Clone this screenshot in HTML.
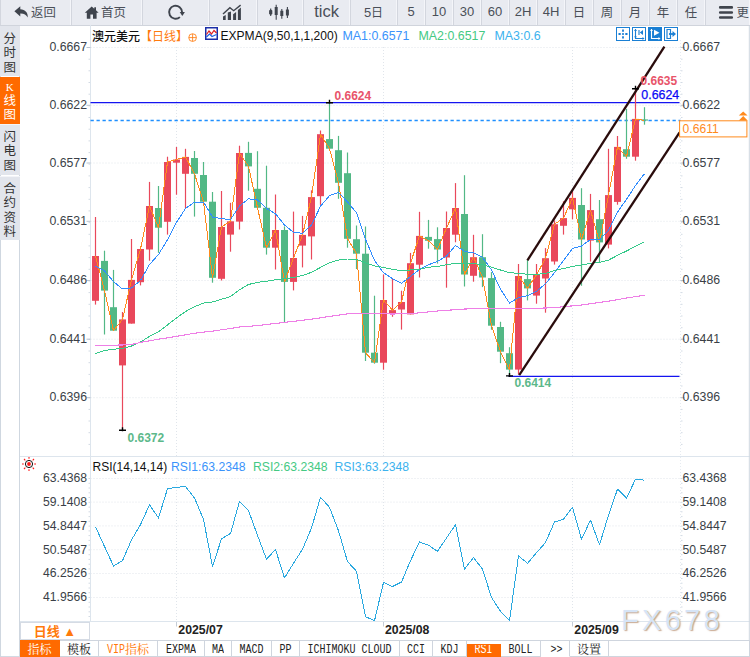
<!DOCTYPE html>
<html lang="zh-CN"><head><meta charset="utf-8"><title>澳元美元 日线</title>
<style>
html,body{margin:0;padding:0;background:#fff}
body{width:750px;height:657px;position:relative;overflow:hidden;font-family:"Liberation Sans","Noto Sans CJK SC",sans-serif;color:#333}
#bar{position:absolute;left:0;top:0;width:750px;height:26px;background:#e9ebf1;border-bottom:1px solid #d0d4dc;box-sizing:border-box}
.tb{position:absolute;top:0;height:25px;box-sizing:border-box;border-right:1px solid #f4f5f9;border-left:1px solid #d3d6de}
.tb .ic{position:absolute}
.tb .cj{position:absolute;top:3.500px;font-size:12.400px;line-height:18px;color:#4a4f58;font-family:"Liberation Sans","Noto Sans CJK SC",sans-serif;white-space:nowrap}
.tb .la{position:absolute;top:3px;font-size:13px;line-height:18px;color:#4a4f58;font-family:"Liberation Sans","Noto Sans CJK SC",sans-serif;white-space:nowrap}
#side{position:absolute;left:0;top:26px;width:20px;height:631px;box-sizing:border-box;border-left:1px solid #cfd7e0;border-right:1px solid #cfd7e0;background:#fff}
.vt{position:absolute;left:0;width:19px;background:#e2e5ec;color:#333;font-size:12.500px;line-height:14.300px;text-align:center;font-family:"Liberation Serif","Noto Sans CJK SC",sans-serif;box-sizing:border-box}
.vt.on{background:#ff6a00;color:#fff}
.vt span{display:block}
#chart{position:absolute;left:0;top:0}
.lg{position:absolute;white-space:nowrap;font-size:12.200px;line-height:14px;font-family:"Liberation Sans","Noto Sans CJK SC",sans-serif}
#rx{position:absolute;left:20px;top:622px;width:70px;height:18px;box-sizing:border-box;border:1px solid #d5dbe4;background:#fff;color:#ff7a0c;font-weight:bold;font-size:13px;line-height:17px;text-align:center;font-family:"Liberation Sans","Noto Sans CJK SC",sans-serif}
#tabs{position:absolute;left:20px;top:640px;width:730px;height:17px;border:1px solid #cfd5de;border-left:none;box-sizing:border-box;background:#fff}
.tab{position:absolute;top:640px;height:17px;box-sizing:border-box;border:1px solid #cfd5de;border-left:none;background:#fff;text-align:center;font-size:12px;line-height:15px;font-family:"Liberation Serif","Noto Serif CJK SC",serif;color:#222;white-space:nowrap;overflow:hidden}
.tab.on{background:#ff6a00;color:#fff;border-color:#ff6a00}
.tab.rsi{top:644px;height:13px;line-height:9px}
.tab.vip{color:#ff7a0c}
.zh{position:relative;top:2px}
.tab.nob{border-bottom-color:transparent}
.mo{font-family:"Liberation Mono",monospace;font-size:10px;display:inline-block;transform:scaleY(1.2);letter-spacing:0}
#wm{position:absolute;left:621px;top:602px;font-size:29px;line-height:36px;letter-spacing:3.300px;color:#d6e4f6;font-family:"Liberation Sans","Noto Sans CJK SC",sans-serif;text-shadow:1.200px 1.200px 1.200px rgba(175,130,95,.7)}
</style></head><body>
<div id="bar">
<div class="tb" style="left:0px;width:71px"><span class="cj" style="left:30px">返回</span></div>
<div class="tb" style="left:71px;width:71px"><span class="cj" style="left:29px">首页</span></div>
<div class="tb" style="left:142px;width:67px"></div>
<div class="tb" style="left:209px;width:48px"></div>
<div class="tb" style="left:257px;width:46px"></div>
<div class="tb" style="left:303px;width:47px"><span class="la" style="font-size:16.500px;left:0;right:0;text-align:center;top:2px">tick</span></div>
<div class="tb" style="left:350px;width:47px"><span class="la" style="left:0;right:0;text-align:center">5<span style="font-family:'Noto Sans CJK SC',sans-serif;font-size:12px">日</span></span></div>
<div class="tb" style="left:397px;width:28px"><span class="la" style="left:0;right:0;text-align:center">5</span></div>
<div class="tb" style="left:425px;width:28px"><span class="la" style="left:0;right:0;text-align:center">10</span></div>
<div class="tb" style="left:453px;width:28px"><span class="la" style="left:0;right:0;text-align:center">30</span></div>
<div class="tb" style="left:481px;width:28px"><span class="la" style="left:0;right:0;text-align:center">60</span></div>
<div class="tb" style="left:509px;width:28px"><span class="la" style="left:0;right:0;text-align:center">2H</span></div>
<div class="tb" style="left:537px;width:28px"><span class="la" style="left:0;right:0;text-align:center">4H</span></div>
<div class="tb" style="left:565px;width:28px"><span class="cj" style="left:0;right:0;text-align:center">日</span></div>
<div class="tb" style="left:593px;width:28px"><span class="cj" style="left:0;right:0;text-align:center">周</span></div>
<div class="tb" style="left:621px;width:28px"><span class="cj" style="left:0;right:0;text-align:center">月</span></div>
<div class="tb" style="left:649px;width:28px"><span class="cj" style="left:0;right:0;text-align:center">年</span></div>
<div class="tb" style="left:677px;width:28px"><span class="cj" style="left:0;right:0;text-align:center">任</span></div>
<div class="tb" style="left:705px;width:45px"><span class="cj" style="left:30.500px;width:12.800px;overflow:hidden">更多</span></div>
<svg style="position:absolute;left:0;top:0" width="750" height="25" viewBox="0 0 750 25">
<path d="M20.300 6.200 14.400 11.300 20.300 16.400V13.400c3.600-.1 5.900 1 7.400 4.200C28.200 12.600 25.200 9.500 20.300 9.200z" fill="#3f444d"/>
<path d="M91.700 6.500 84.800 12.700h2V18.800h3.600v-4.300h2.600v4.300h3.600V12.700h2L96 10.300V7.300h-1.700v1.500z" fill="#3f444d"/>
<path d="M182.100 12.300A6.500 6.500 0 1 0 179.900 17.100" fill="none" stroke="#3f444d" stroke-width="1.900"/>
<path d="M179.700 12.100h5.200L182.300 15.900z" fill="#3f444d"/>
<path d="M223 20V16.600l2.700-1.500V20zM227.800 20V12.400l3.200-.9V20zM233.100 20V14.300l3-2.200V20zM237.900 20V10l3-2.400V20z" fill="#3f444d"/>
<path d="M223 13.900 229.900 7.700 233.700 10.700 240.600 5.100" fill="none" stroke="#3f444d" stroke-width="1.400"/>
<path d="M270.700 8.500v7.600M276.200 4.800v14.900M281.800 9v9.700M287.400 6.900v11.200" stroke="#3f444d" stroke-width="1.100" fill="none"/>
<path d="M269.100 10.400l1.600-.9 1.600.9v3.700l-1.600.9-1.600-.9zM274.700 6.900h3v8h-3zM280.300 10.700h3v5.300h-3zM285.900 9.600h3v5.900h-3z" fill="#3f444d"/>
<path d="M720.200 7.400h11.600M720.200 12.500h11.600M720.200 17.500h11.600" stroke="#3f444d" stroke-width="2.600" stroke-linecap="round"/>
</svg>
</div>
<div id="side">
<div class="vt" style="top:0px;height:50px;padding-top:6px;left:-1px;width:19.500px"><span>分</span><span>时</span><span>图</span></div>
<div class="vt on" style="top:50.500px;height:47px;padding-top:3px;left:-1px;width:19.500px"><span style="font-family:'Liberation Serif',serif;font-size:11px">K</span><span>线</span><span>图</span></div>
<div class="vt" style="top:98px;height:51px;padding-top:5px;left:-1px;width:19.500px;border-top:1px solid #f3f4f8"><span>闪</span><span>电</span><span>图</span></div>
<div class="vt" style="top:150px;height:63.500px;padding-top:5px;left:-1px;width:19.500px;border-top:1px solid #f3f4f8"><span>合</span><span>约</span><span>资</span><span>料</span></div>
</div>
<svg id="chart" width="750" height="657" viewBox="0 0 750 657">
<line x1="90.5" x2="680.5" y1="47.5" y2="47.5" stroke="#e0e5eb" stroke-width="1" stroke-dasharray="1 2"/>
<line x1="90.5" x2="680.5" y1="105.3" y2="105.3" stroke="#e0e5eb" stroke-width="1" stroke-dasharray="1 2"/>
<line x1="90.5" x2="680.5" y1="163.0" y2="163.0" stroke="#e0e5eb" stroke-width="1" stroke-dasharray="1 2"/>
<line x1="90.5" x2="680.5" y1="221.3" y2="221.3" stroke="#e0e5eb" stroke-width="1" stroke-dasharray="1 2"/>
<line x1="90.5" x2="680.5" y1="280.5" y2="280.5" stroke="#e0e5eb" stroke-width="1" stroke-dasharray="1 2"/>
<line x1="90.5" x2="680.5" y1="339.2" y2="339.2" stroke="#e0e5eb" stroke-width="1" stroke-dasharray="1 2"/>
<line x1="90.5" x2="680.5" y1="397.7" y2="397.7" stroke="#e0e5eb" stroke-width="1" stroke-dasharray="1 2"/>
<line x1="90.5" x2="680.5" y1="478.5" y2="478.5" stroke="#e0e5eb" stroke-width="1" stroke-dasharray="1 2"/>
<line x1="90.5" x2="680.5" y1="502.1" y2="502.1" stroke="#e0e5eb" stroke-width="1" stroke-dasharray="1 2"/>
<line x1="90.5" x2="680.5" y1="525.9" y2="525.9" stroke="#e0e5eb" stroke-width="1" stroke-dasharray="1 2"/>
<line x1="90.5" x2="680.5" y1="549.7" y2="549.7" stroke="#e0e5eb" stroke-width="1" stroke-dasharray="1 2"/>
<line x1="90.5" x2="680.5" y1="573.5" y2="573.5" stroke="#e0e5eb" stroke-width="1" stroke-dasharray="1 2"/>
<line x1="90.5" x2="680.5" y1="597.5" y2="597.5" stroke="#e0e5eb" stroke-width="1" stroke-dasharray="1 2"/>
<line x1="176.5" x2="176.5" y1="47" y2="456" stroke="#e0e5eb" stroke-width="1" stroke-dasharray="1 2"/>
<line x1="176.5" x2="176.5" y1="478" y2="621.5" stroke="#e0e5eb" stroke-width="1" stroke-dasharray="1 2"/>
<line x1="176.5" x2="176.5" y1="621.5" y2="626.5" stroke="#c5ccd6" stroke-width="1"/>
<line x1="383.5" x2="383.5" y1="47" y2="456" stroke="#e0e5eb" stroke-width="1" stroke-dasharray="1 2"/>
<line x1="383.5" x2="383.5" y1="478" y2="621.5" stroke="#e0e5eb" stroke-width="1" stroke-dasharray="1 2"/>
<line x1="383.5" x2="383.5" y1="621.5" y2="626.5" stroke="#c5ccd6" stroke-width="1"/>
<line x1="572.5" x2="572.5" y1="47" y2="456" stroke="#e0e5eb" stroke-width="1" stroke-dasharray="1 2"/>
<line x1="572.5" x2="572.5" y1="478" y2="621.5" stroke="#e0e5eb" stroke-width="1" stroke-dasharray="1 2"/>
<line x1="572.5" x2="572.5" y1="621.5" y2="626.5" stroke="#c5ccd6" stroke-width="1"/>
<line x1="90.5" x2="90.5" y1="25" y2="621.5" stroke="#dde5ed" stroke-width="1"/>
<line x1="680.5" x2="680.5" y1="40" y2="621.5" stroke="#e6ebf1" stroke-width="1" stroke-dasharray="1 2"/>
<line x1="20" x2="750" y1="456.5" y2="456.5" stroke="#dde5ed" stroke-width="1"/>
<line x1="20" x2="750" y1="621.5" y2="621.5" stroke="#dde5ed" stroke-width="1"/>
<line x1="88.5" x2="90.0" y1="47.5" y2="47.5" stroke="#d3dbe4" stroke-width="1"/>
<line x1="681.0" x2="682.5" y1="47.5" y2="47.5" stroke="#d3dbe4" stroke-width="1"/>
<line x1="88.5" x2="90.0" y1="59.2" y2="59.2" stroke="#d3dbe4" stroke-width="1"/>
<line x1="681.0" x2="682.5" y1="59.2" y2="59.2" stroke="#d3dbe4" stroke-width="1"/>
<line x1="88.5" x2="90.0" y1="70.8" y2="70.8" stroke="#d3dbe4" stroke-width="1"/>
<line x1="681.0" x2="682.5" y1="70.8" y2="70.8" stroke="#d3dbe4" stroke-width="1"/>
<line x1="88.5" x2="90.0" y1="82.5" y2="82.5" stroke="#d3dbe4" stroke-width="1"/>
<line x1="681.0" x2="682.5" y1="82.5" y2="82.5" stroke="#d3dbe4" stroke-width="1"/>
<line x1="88.5" x2="90.0" y1="94.2" y2="94.2" stroke="#d3dbe4" stroke-width="1"/>
<line x1="681.0" x2="682.5" y1="94.2" y2="94.2" stroke="#d3dbe4" stroke-width="1"/>
<line x1="88.5" x2="90.0" y1="105.9" y2="105.9" stroke="#d3dbe4" stroke-width="1"/>
<line x1="681.0" x2="682.5" y1="105.9" y2="105.9" stroke="#d3dbe4" stroke-width="1"/>
<line x1="88.5" x2="90.0" y1="117.5" y2="117.5" stroke="#d3dbe4" stroke-width="1"/>
<line x1="681.0" x2="682.5" y1="117.5" y2="117.5" stroke="#d3dbe4" stroke-width="1"/>
<line x1="88.5" x2="90.0" y1="129.2" y2="129.2" stroke="#d3dbe4" stroke-width="1"/>
<line x1="681.0" x2="682.5" y1="129.2" y2="129.2" stroke="#d3dbe4" stroke-width="1"/>
<line x1="88.5" x2="90.0" y1="140.9" y2="140.9" stroke="#d3dbe4" stroke-width="1"/>
<line x1="681.0" x2="682.5" y1="140.9" y2="140.9" stroke="#d3dbe4" stroke-width="1"/>
<line x1="88.5" x2="90.0" y1="152.6" y2="152.6" stroke="#d3dbe4" stroke-width="1"/>
<line x1="681.0" x2="682.5" y1="152.6" y2="152.6" stroke="#d3dbe4" stroke-width="1"/>
<line x1="88.5" x2="90.0" y1="164.2" y2="164.2" stroke="#d3dbe4" stroke-width="1"/>
<line x1="681.0" x2="682.5" y1="164.2" y2="164.2" stroke="#d3dbe4" stroke-width="1"/>
<line x1="88.5" x2="90.0" y1="175.9" y2="175.9" stroke="#d3dbe4" stroke-width="1"/>
<line x1="681.0" x2="682.5" y1="175.9" y2="175.9" stroke="#d3dbe4" stroke-width="1"/>
<line x1="88.5" x2="90.0" y1="187.6" y2="187.6" stroke="#d3dbe4" stroke-width="1"/>
<line x1="681.0" x2="682.5" y1="187.6" y2="187.6" stroke="#d3dbe4" stroke-width="1"/>
<line x1="88.5" x2="90.0" y1="199.3" y2="199.3" stroke="#d3dbe4" stroke-width="1"/>
<line x1="681.0" x2="682.5" y1="199.3" y2="199.3" stroke="#d3dbe4" stroke-width="1"/>
<line x1="88.5" x2="90.0" y1="210.9" y2="210.9" stroke="#d3dbe4" stroke-width="1"/>
<line x1="681.0" x2="682.5" y1="210.9" y2="210.9" stroke="#d3dbe4" stroke-width="1"/>
<line x1="88.5" x2="90.0" y1="222.6" y2="222.6" stroke="#d3dbe4" stroke-width="1"/>
<line x1="681.0" x2="682.5" y1="222.6" y2="222.6" stroke="#d3dbe4" stroke-width="1"/>
<line x1="88.5" x2="90.0" y1="234.3" y2="234.3" stroke="#d3dbe4" stroke-width="1"/>
<line x1="681.0" x2="682.5" y1="234.3" y2="234.3" stroke="#d3dbe4" stroke-width="1"/>
<line x1="88.5" x2="90.0" y1="245.9" y2="245.9" stroke="#d3dbe4" stroke-width="1"/>
<line x1="681.0" x2="682.5" y1="245.9" y2="245.9" stroke="#d3dbe4" stroke-width="1"/>
<line x1="88.5" x2="90.0" y1="257.6" y2="257.6" stroke="#d3dbe4" stroke-width="1"/>
<line x1="681.0" x2="682.5" y1="257.6" y2="257.6" stroke="#d3dbe4" stroke-width="1"/>
<line x1="88.5" x2="90.0" y1="269.3" y2="269.3" stroke="#d3dbe4" stroke-width="1"/>
<line x1="681.0" x2="682.5" y1="269.3" y2="269.3" stroke="#d3dbe4" stroke-width="1"/>
<line x1="88.5" x2="90.0" y1="281.0" y2="281.0" stroke="#d3dbe4" stroke-width="1"/>
<line x1="681.0" x2="682.5" y1="281.0" y2="281.0" stroke="#d3dbe4" stroke-width="1"/>
<line x1="88.5" x2="90.0" y1="292.6" y2="292.6" stroke="#d3dbe4" stroke-width="1"/>
<line x1="681.0" x2="682.5" y1="292.6" y2="292.6" stroke="#d3dbe4" stroke-width="1"/>
<line x1="88.5" x2="90.0" y1="304.3" y2="304.3" stroke="#d3dbe4" stroke-width="1"/>
<line x1="681.0" x2="682.5" y1="304.3" y2="304.3" stroke="#d3dbe4" stroke-width="1"/>
<line x1="88.5" x2="90.0" y1="316.0" y2="316.0" stroke="#d3dbe4" stroke-width="1"/>
<line x1="681.0" x2="682.5" y1="316.0" y2="316.0" stroke="#d3dbe4" stroke-width="1"/>
<line x1="88.5" x2="90.0" y1="327.7" y2="327.7" stroke="#d3dbe4" stroke-width="1"/>
<line x1="681.0" x2="682.5" y1="327.7" y2="327.7" stroke="#d3dbe4" stroke-width="1"/>
<line x1="88.5" x2="90.0" y1="339.3" y2="339.3" stroke="#d3dbe4" stroke-width="1"/>
<line x1="681.0" x2="682.5" y1="339.3" y2="339.3" stroke="#d3dbe4" stroke-width="1"/>
<line x1="88.5" x2="90.0" y1="351.0" y2="351.0" stroke="#d3dbe4" stroke-width="1"/>
<line x1="681.0" x2="682.5" y1="351.0" y2="351.0" stroke="#d3dbe4" stroke-width="1"/>
<line x1="88.5" x2="90.0" y1="362.7" y2="362.7" stroke="#d3dbe4" stroke-width="1"/>
<line x1="681.0" x2="682.5" y1="362.7" y2="362.7" stroke="#d3dbe4" stroke-width="1"/>
<line x1="88.5" x2="90.0" y1="374.4" y2="374.4" stroke="#d3dbe4" stroke-width="1"/>
<line x1="681.0" x2="682.5" y1="374.4" y2="374.4" stroke="#d3dbe4" stroke-width="1"/>
<line x1="88.5" x2="90.0" y1="386.0" y2="386.0" stroke="#d3dbe4" stroke-width="1"/>
<line x1="681.0" x2="682.5" y1="386.0" y2="386.0" stroke="#d3dbe4" stroke-width="1"/>
<line x1="88.5" x2="90.0" y1="397.7" y2="397.7" stroke="#d3dbe4" stroke-width="1"/>
<line x1="681.0" x2="682.5" y1="397.7" y2="397.7" stroke="#d3dbe4" stroke-width="1"/>
<line x1="88.5" x2="90.0" y1="409.4" y2="409.4" stroke="#d3dbe4" stroke-width="1"/>
<line x1="681.0" x2="682.5" y1="409.4" y2="409.4" stroke="#d3dbe4" stroke-width="1"/>
<line x1="88.5" x2="90.0" y1="421.0" y2="421.0" stroke="#d3dbe4" stroke-width="1"/>
<line x1="681.0" x2="682.5" y1="421.0" y2="421.0" stroke="#d3dbe4" stroke-width="1"/>
<line x1="88.5" x2="90.0" y1="432.7" y2="432.7" stroke="#d3dbe4" stroke-width="1"/>
<line x1="681.0" x2="682.5" y1="432.7" y2="432.7" stroke="#d3dbe4" stroke-width="1"/>
<line x1="88.5" x2="90.0" y1="444.4" y2="444.4" stroke="#d3dbe4" stroke-width="1"/>
<line x1="681.0" x2="682.5" y1="444.4" y2="444.4" stroke="#d3dbe4" stroke-width="1"/>
<line x1="86.5" x2="90.5" y1="47.5" y2="47.5" stroke="#b9c3cf" stroke-width="1"/>
<line x1="680.5" x2="684.5" y1="47.5" y2="47.5" stroke="#b9c3cf" stroke-width="1"/>
<line x1="86.5" x2="90.5" y1="105.3" y2="105.3" stroke="#b9c3cf" stroke-width="1"/>
<line x1="680.5" x2="684.5" y1="105.3" y2="105.3" stroke="#b9c3cf" stroke-width="1"/>
<line x1="86.5" x2="90.5" y1="163.0" y2="163.0" stroke="#b9c3cf" stroke-width="1"/>
<line x1="680.5" x2="684.5" y1="163.0" y2="163.0" stroke="#b9c3cf" stroke-width="1"/>
<line x1="86.5" x2="90.5" y1="221.3" y2="221.3" stroke="#b9c3cf" stroke-width="1"/>
<line x1="680.5" x2="684.5" y1="221.3" y2="221.3" stroke="#b9c3cf" stroke-width="1"/>
<line x1="86.5" x2="90.5" y1="280.5" y2="280.5" stroke="#b9c3cf" stroke-width="1"/>
<line x1="680.5" x2="684.5" y1="280.5" y2="280.5" stroke="#b9c3cf" stroke-width="1"/>
<line x1="86.5" x2="90.5" y1="339.2" y2="339.2" stroke="#b9c3cf" stroke-width="1"/>
<line x1="680.5" x2="684.5" y1="339.2" y2="339.2" stroke="#b9c3cf" stroke-width="1"/>
<line x1="86.5" x2="90.5" y1="397.7" y2="397.7" stroke="#b9c3cf" stroke-width="1"/>
<line x1="680.5" x2="684.5" y1="397.7" y2="397.7" stroke="#b9c3cf" stroke-width="1"/>
<line x1="88.5" x2="90.0" y1="478.5" y2="478.5" stroke="#d3dbe4" stroke-width="1"/>
<line x1="681.0" x2="682.5" y1="478.5" y2="478.5" stroke="#d3dbe4" stroke-width="1"/>
<line x1="88.5" x2="90.0" y1="483.3" y2="483.3" stroke="#d3dbe4" stroke-width="1"/>
<line x1="681.0" x2="682.5" y1="483.3" y2="483.3" stroke="#d3dbe4" stroke-width="1"/>
<line x1="88.5" x2="90.0" y1="488.0" y2="488.0" stroke="#d3dbe4" stroke-width="1"/>
<line x1="681.0" x2="682.5" y1="488.0" y2="488.0" stroke="#d3dbe4" stroke-width="1"/>
<line x1="88.5" x2="90.0" y1="492.8" y2="492.8" stroke="#d3dbe4" stroke-width="1"/>
<line x1="681.0" x2="682.5" y1="492.8" y2="492.8" stroke="#d3dbe4" stroke-width="1"/>
<line x1="88.5" x2="90.0" y1="497.5" y2="497.5" stroke="#d3dbe4" stroke-width="1"/>
<line x1="681.0" x2="682.5" y1="497.5" y2="497.5" stroke="#d3dbe4" stroke-width="1"/>
<line x1="88.5" x2="90.0" y1="502.3" y2="502.3" stroke="#d3dbe4" stroke-width="1"/>
<line x1="681.0" x2="682.5" y1="502.3" y2="502.3" stroke="#d3dbe4" stroke-width="1"/>
<line x1="88.5" x2="90.0" y1="507.1" y2="507.1" stroke="#d3dbe4" stroke-width="1"/>
<line x1="681.0" x2="682.5" y1="507.1" y2="507.1" stroke="#d3dbe4" stroke-width="1"/>
<line x1="88.5" x2="90.0" y1="511.8" y2="511.8" stroke="#d3dbe4" stroke-width="1"/>
<line x1="681.0" x2="682.5" y1="511.8" y2="511.8" stroke="#d3dbe4" stroke-width="1"/>
<line x1="88.5" x2="90.0" y1="516.6" y2="516.6" stroke="#d3dbe4" stroke-width="1"/>
<line x1="681.0" x2="682.5" y1="516.6" y2="516.6" stroke="#d3dbe4" stroke-width="1"/>
<line x1="88.5" x2="90.0" y1="521.3" y2="521.3" stroke="#d3dbe4" stroke-width="1"/>
<line x1="681.0" x2="682.5" y1="521.3" y2="521.3" stroke="#d3dbe4" stroke-width="1"/>
<line x1="88.5" x2="90.0" y1="526.1" y2="526.1" stroke="#d3dbe4" stroke-width="1"/>
<line x1="681.0" x2="682.5" y1="526.1" y2="526.1" stroke="#d3dbe4" stroke-width="1"/>
<line x1="88.5" x2="90.0" y1="530.9" y2="530.9" stroke="#d3dbe4" stroke-width="1"/>
<line x1="681.0" x2="682.5" y1="530.9" y2="530.9" stroke="#d3dbe4" stroke-width="1"/>
<line x1="88.5" x2="90.0" y1="535.6" y2="535.6" stroke="#d3dbe4" stroke-width="1"/>
<line x1="681.0" x2="682.5" y1="535.6" y2="535.6" stroke="#d3dbe4" stroke-width="1"/>
<line x1="88.5" x2="90.0" y1="540.4" y2="540.4" stroke="#d3dbe4" stroke-width="1"/>
<line x1="681.0" x2="682.5" y1="540.4" y2="540.4" stroke="#d3dbe4" stroke-width="1"/>
<line x1="88.5" x2="90.0" y1="545.1" y2="545.1" stroke="#d3dbe4" stroke-width="1"/>
<line x1="681.0" x2="682.5" y1="545.1" y2="545.1" stroke="#d3dbe4" stroke-width="1"/>
<line x1="88.5" x2="90.0" y1="549.9" y2="549.9" stroke="#d3dbe4" stroke-width="1"/>
<line x1="681.0" x2="682.5" y1="549.9" y2="549.9" stroke="#d3dbe4" stroke-width="1"/>
<line x1="88.5" x2="90.0" y1="554.7" y2="554.7" stroke="#d3dbe4" stroke-width="1"/>
<line x1="681.0" x2="682.5" y1="554.7" y2="554.7" stroke="#d3dbe4" stroke-width="1"/>
<line x1="88.5" x2="90.0" y1="559.4" y2="559.4" stroke="#d3dbe4" stroke-width="1"/>
<line x1="681.0" x2="682.5" y1="559.4" y2="559.4" stroke="#d3dbe4" stroke-width="1"/>
<line x1="88.5" x2="90.0" y1="564.2" y2="564.2" stroke="#d3dbe4" stroke-width="1"/>
<line x1="681.0" x2="682.5" y1="564.2" y2="564.2" stroke="#d3dbe4" stroke-width="1"/>
<line x1="88.5" x2="90.0" y1="568.9" y2="568.9" stroke="#d3dbe4" stroke-width="1"/>
<line x1="681.0" x2="682.5" y1="568.9" y2="568.9" stroke="#d3dbe4" stroke-width="1"/>
<line x1="88.5" x2="90.0" y1="573.7" y2="573.7" stroke="#d3dbe4" stroke-width="1"/>
<line x1="681.0" x2="682.5" y1="573.7" y2="573.7" stroke="#d3dbe4" stroke-width="1"/>
<line x1="88.5" x2="90.0" y1="578.5" y2="578.5" stroke="#d3dbe4" stroke-width="1"/>
<line x1="681.0" x2="682.5" y1="578.5" y2="578.5" stroke="#d3dbe4" stroke-width="1"/>
<line x1="88.5" x2="90.0" y1="583.2" y2="583.2" stroke="#d3dbe4" stroke-width="1"/>
<line x1="681.0" x2="682.5" y1="583.2" y2="583.2" stroke="#d3dbe4" stroke-width="1"/>
<line x1="88.5" x2="90.0" y1="588.0" y2="588.0" stroke="#d3dbe4" stroke-width="1"/>
<line x1="681.0" x2="682.5" y1="588.0" y2="588.0" stroke="#d3dbe4" stroke-width="1"/>
<line x1="88.5" x2="90.0" y1="592.7" y2="592.7" stroke="#d3dbe4" stroke-width="1"/>
<line x1="681.0" x2="682.5" y1="592.7" y2="592.7" stroke="#d3dbe4" stroke-width="1"/>
<line x1="88.5" x2="90.0" y1="597.5" y2="597.5" stroke="#d3dbe4" stroke-width="1"/>
<line x1="681.0" x2="682.5" y1="597.5" y2="597.5" stroke="#d3dbe4" stroke-width="1"/>
<line x1="88.5" x2="90.0" y1="602.3" y2="602.3" stroke="#d3dbe4" stroke-width="1"/>
<line x1="681.0" x2="682.5" y1="602.3" y2="602.3" stroke="#d3dbe4" stroke-width="1"/>
<line x1="88.5" x2="90.0" y1="607.0" y2="607.0" stroke="#d3dbe4" stroke-width="1"/>
<line x1="681.0" x2="682.5" y1="607.0" y2="607.0" stroke="#d3dbe4" stroke-width="1"/>
<line x1="88.5" x2="90.0" y1="611.8" y2="611.8" stroke="#d3dbe4" stroke-width="1"/>
<line x1="681.0" x2="682.5" y1="611.8" y2="611.8" stroke="#d3dbe4" stroke-width="1"/>
<line x1="88.5" x2="90.0" y1="616.5" y2="616.5" stroke="#d3dbe4" stroke-width="1"/>
<line x1="681.0" x2="682.5" y1="616.5" y2="616.5" stroke="#d3dbe4" stroke-width="1"/>
<line x1="749.3" x2="749.3" y1="26" y2="657" stroke="#cfd7e0" stroke-width="1"/>
<line x1="0" x2="750" y1="656.6" y2="656.6" stroke="#cfd7e0" stroke-width="1"/>
<line x1="90.5" x2="679.5" y1="102.6" y2="102.6" stroke="#1414f0" stroke-width="1.35"/>
<line x1="90.5" x2="680.5" y1="120.5" y2="120.5" stroke="#1e8fff" stroke-width="1.35" stroke-dasharray="3.3 2.7"/>
<line x1="508.5" x2="679.5" y1="376.4" y2="376.4" stroke="#1414f0" stroke-width="1.35"/>
<line x1="95.5" x2="95.5" y1="217.0" y2="304.6" stroke="#e9485b" stroke-width="1.2"/>
<rect x="92.0" y="256.0" width="7" height="44.8" fill="#e9485b"/>
<line x1="104.5" x2="104.5" y1="250.7" y2="334.5" stroke="#52b885" stroke-width="1.2"/>
<rect x="101.0" y="260.9" width="7" height="29.7" fill="#52b885"/>
<line x1="113.5" x2="113.5" y1="269.9" y2="330.7" stroke="#52b885" stroke-width="1.2"/>
<rect x="110.0" y="307.2" width="7" height="23.5" fill="#52b885"/>
<line x1="122.5" x2="122.5" y1="312.0" y2="430.0" stroke="#e9485b" stroke-width="1.2"/>
<rect x="119.0" y="319.4" width="7" height="46.0" fill="#e9485b"/>
<line x1="131.5" x2="131.5" y1="239.0" y2="323.6" stroke="#e9485b" stroke-width="1.2"/>
<rect x="128.0" y="279.9" width="7" height="43.7" fill="#e9485b"/>
<line x1="140.5" x2="140.5" y1="249.0" y2="285.4" stroke="#e9485b" stroke-width="1.2"/>
<rect x="137.0" y="249.0" width="7" height="33.2" fill="#e9485b"/>
<line x1="149.5" x2="149.5" y1="181.9" y2="260.7" stroke="#e9485b" stroke-width="1.2"/>
<rect x="146.0" y="206.0" width="7" height="43.5" fill="#e9485b"/>
<line x1="158.5" x2="158.5" y1="186.0" y2="252.8" stroke="#52b885" stroke-width="1.2"/>
<rect x="155.0" y="208.0" width="7" height="19.7" fill="#52b885"/>
<line x1="167.5" x2="167.5" y1="156.7" y2="234.6" stroke="#e9485b" stroke-width="1.2"/>
<rect x="164.0" y="162.0" width="7" height="59.8" fill="#e9485b"/>
<line x1="176.5" x2="176.5" y1="147.0" y2="194.7" stroke="#e9485b" stroke-width="1.2"/>
<rect x="173.0" y="159.5" width="7" height="3.2" fill="#e9485b"/>
<line x1="185.5" x2="185.5" y1="148.8" y2="208.5" stroke="#e9485b" stroke-width="1.2"/>
<rect x="182.0" y="156.9" width="7" height="16.9" fill="#e9485b"/>
<line x1="194.5" x2="194.5" y1="151.0" y2="216.6" stroke="#52b885" stroke-width="1.2"/>
<rect x="191.0" y="158.0" width="7" height="15.8" fill="#52b885"/>
<line x1="203.5" x2="203.5" y1="162.0" y2="201.7" stroke="#52b885" stroke-width="1.2"/>
<rect x="200.0" y="175.0" width="7" height="26.7" fill="#52b885"/>
<line x1="212.5" x2="212.5" y1="192.0" y2="282.7" stroke="#52b885" stroke-width="1.2"/>
<rect x="209.0" y="201.7" width="7" height="76.1" fill="#52b885"/>
<line x1="221.5" x2="221.5" y1="191.0" y2="280.5" stroke="#e9485b" stroke-width="1.2"/>
<rect x="218.0" y="227.0" width="7" height="51.8" fill="#e9485b"/>
<line x1="230.5" x2="230.5" y1="202.8" y2="251.7" stroke="#e9485b" stroke-width="1.2"/>
<rect x="227.0" y="221.3" width="7" height="13.3" fill="#e9485b"/>
<line x1="239.5" x2="239.5" y1="145.7" y2="229.5" stroke="#e9485b" stroke-width="1.2"/>
<rect x="236.0" y="153.0" width="7" height="68.6" fill="#e9485b"/>
<line x1="248.5" x2="248.5" y1="141.8" y2="190.7" stroke="#52b885" stroke-width="1.2"/>
<rect x="245.0" y="152.9" width="7" height="13.5" fill="#52b885"/>
<line x1="257.5" x2="257.5" y1="151.2" y2="207.8" stroke="#52b885" stroke-width="1.2"/>
<rect x="254.0" y="188.8" width="7" height="19.0" fill="#52b885"/>
<line x1="266.5" x2="266.5" y1="165.7" y2="254.6" stroke="#52b885" stroke-width="1.2"/>
<rect x="263.0" y="207.8" width="7" height="39.9" fill="#52b885"/>
<line x1="275.5" x2="275.5" y1="194.5" y2="269.5" stroke="#e9485b" stroke-width="1.2"/>
<rect x="272.0" y="230.0" width="7" height="17.7" fill="#e9485b"/>
<line x1="284.5" x2="284.5" y1="226.4" y2="322.8" stroke="#52b885" stroke-width="1.2"/>
<rect x="281.0" y="230.0" width="7" height="51.9" fill="#52b885"/>
<line x1="293.5" x2="293.5" y1="211.6" y2="290.4" stroke="#e9485b" stroke-width="1.2"/>
<rect x="290.0" y="258.0" width="7" height="23.9" fill="#e9485b"/>
<line x1="302.5" x2="302.5" y1="215.9" y2="267.4" stroke="#e9485b" stroke-width="1.2"/>
<rect x="299.0" y="234.9" width="7" height="10.7" fill="#e9485b"/>
<line x1="311.5" x2="311.5" y1="190.3" y2="259.5" stroke="#e9485b" stroke-width="1.2"/>
<rect x="308.0" y="197.1" width="7" height="39.3" fill="#e9485b"/>
<line x1="320.5" x2="320.5" y1="130.5" y2="204.8" stroke="#e9485b" stroke-width="1.2"/>
<rect x="317.0" y="134.2" width="7" height="62.0" fill="#e9485b"/>
<line x1="329.5" x2="329.5" y1="102.8" y2="148.7" stroke="#52b885" stroke-width="1.2"/>
<rect x="326.0" y="139.1" width="7" height="9.6" fill="#52b885"/>
<line x1="338.5" x2="338.5" y1="135.9" y2="198.8" stroke="#52b885" stroke-width="1.2"/>
<rect x="335.0" y="150.2" width="7" height="32.6" fill="#52b885"/>
<line x1="347.5" x2="347.5" y1="152.5" y2="247.7" stroke="#52b885" stroke-width="1.2"/>
<rect x="344.0" y="173.2" width="7" height="65.6" fill="#52b885"/>
<line x1="356.5" x2="356.5" y1="225.5" y2="269.0" stroke="#52b885" stroke-width="1.2"/>
<rect x="353.0" y="239.2" width="7" height="14.5" fill="#52b885"/>
<line x1="365.5" x2="365.5" y1="226.5" y2="361.0" stroke="#52b885" stroke-width="1.2"/>
<rect x="362.0" y="253.7" width="7" height="99.0" fill="#52b885"/>
<line x1="374.5" x2="374.5" y1="295.7" y2="363.7" stroke="#52b885" stroke-width="1.2"/>
<rect x="371.0" y="352.7" width="7" height="10.0" fill="#52b885"/>
<line x1="383.5" x2="383.5" y1="274.4" y2="369.7" stroke="#e9485b" stroke-width="1.2"/>
<rect x="380.0" y="300.0" width="7" height="62.7" fill="#e9485b"/>
<line x1="392.5" x2="392.5" y1="278.6" y2="316.8" stroke="#e9485b" stroke-width="1.2"/>
<rect x="389.0" y="310.1" width="7" height="3.0" fill="#e9485b"/>
<line x1="401.5" x2="401.5" y1="290.7" y2="329.6" stroke="#e9485b" stroke-width="1.2"/>
<rect x="398.0" y="302.0" width="7" height="7.5" fill="#e9485b"/>
<line x1="410.5" x2="410.5" y1="252.9" y2="314.4" stroke="#e9485b" stroke-width="1.2"/>
<rect x="407.0" y="263.2" width="7" height="51.2" fill="#e9485b"/>
<line x1="419.5" x2="419.5" y1="211.8" y2="277.5" stroke="#e9485b" stroke-width="1.2"/>
<rect x="416.0" y="235.9" width="7" height="28.8" fill="#e9485b"/>
<line x1="428.5" x2="428.5" y1="219.9" y2="248.7" stroke="#52b885" stroke-width="1.2"/>
<rect x="425.0" y="236.9" width="7" height="3.9" fill="#52b885"/>
<line x1="437.5" x2="437.5" y1="227.3" y2="263.6" stroke="#52b885" stroke-width="1.2"/>
<rect x="434.0" y="239.1" width="7" height="10.4" fill="#52b885"/>
<line x1="446.5" x2="446.5" y1="211.5" y2="287.7" stroke="#e9485b" stroke-width="1.2"/>
<rect x="443.0" y="228.0" width="7" height="29.5" fill="#e9485b"/>
<line x1="455.5" x2="455.5" y1="183.1" y2="242.3" stroke="#e9485b" stroke-width="1.2"/>
<rect x="452.0" y="208.0" width="7" height="26.7" fill="#e9485b"/>
<line x1="464.5" x2="464.5" y1="175.2" y2="286.5" stroke="#52b885" stroke-width="1.2"/>
<rect x="461.0" y="214.0" width="7" height="60.5" fill="#52b885"/>
<line x1="473.5" x2="473.5" y1="234.8" y2="281.7" stroke="#e9485b" stroke-width="1.2"/>
<rect x="470.0" y="257.2" width="7" height="18.6" fill="#e9485b"/>
<line x1="482.5" x2="482.5" y1="234.2" y2="287.1" stroke="#52b885" stroke-width="1.2"/>
<rect x="479.0" y="257.2" width="7" height="20.3" fill="#52b885"/>
<line x1="491.5" x2="491.5" y1="272.1" y2="329.7" stroke="#52b885" stroke-width="1.2"/>
<rect x="488.0" y="278.1" width="7" height="47.6" fill="#52b885"/>
<line x1="500.5" x2="500.5" y1="321.8" y2="363.2" stroke="#52b885" stroke-width="1.2"/>
<rect x="497.0" y="327.0" width="7" height="24.7" fill="#52b885"/>
<line x1="509.5" x2="509.5" y1="347.2" y2="375.6" stroke="#52b885" stroke-width="1.2"/>
<rect x="506.0" y="353.2" width="7" height="16.4" fill="#52b885"/>
<line x1="518.5" x2="518.5" y1="264.0" y2="374.5" stroke="#e9485b" stroke-width="1.2"/>
<rect x="515.0" y="276.0" width="7" height="93.6" fill="#e9485b"/>
<line x1="527.5" x2="527.5" y1="259.6" y2="300.4" stroke="#52b885" stroke-width="1.2"/>
<rect x="524.0" y="279.1" width="7" height="9.3" fill="#52b885"/>
<line x1="536.5" x2="536.5" y1="264.0" y2="303.7" stroke="#e9485b" stroke-width="1.2"/>
<rect x="533.0" y="274.9" width="7" height="20.7" fill="#e9485b"/>
<line x1="545.5" x2="545.5" y1="248.1" y2="312.7" stroke="#e9485b" stroke-width="1.2"/>
<rect x="542.0" y="258.2" width="7" height="20.3" fill="#e9485b"/>
<line x1="554.5" x2="554.5" y1="220.4" y2="264.6" stroke="#e9485b" stroke-width="1.2"/>
<rect x="551.0" y="224.2" width="7" height="37.3" fill="#e9485b"/>
<line x1="563.5" x2="563.5" y1="201.3" y2="234.6" stroke="#e9485b" stroke-width="1.2"/>
<rect x="560.0" y="218.1" width="7" height="7.7" fill="#e9485b"/>
<line x1="572.5" x2="572.5" y1="191.2" y2="219.4" stroke="#e9485b" stroke-width="1.2"/>
<rect x="569.0" y="197.9" width="7" height="11.4" fill="#e9485b"/>
<line x1="581.5" x2="581.5" y1="188.2" y2="285.8" stroke="#52b885" stroke-width="1.2"/>
<rect x="578.0" y="205.0" width="7" height="34.5" fill="#52b885"/>
<line x1="590.5" x2="590.5" y1="193.9" y2="261.5" stroke="#e9485b" stroke-width="1.2"/>
<rect x="587.0" y="210.1" width="7" height="30.5" fill="#e9485b"/>
<line x1="599.5" x2="599.5" y1="200.0" y2="262.0" stroke="#52b885" stroke-width="1.2"/>
<rect x="596.0" y="219.2" width="7" height="23.2" fill="#52b885"/>
<line x1="608.5" x2="608.5" y1="148.8" y2="248.4" stroke="#e9485b" stroke-width="1.2"/>
<rect x="605.0" y="195.1" width="7" height="49.5" fill="#e9485b"/>
<line x1="617.5" x2="617.5" y1="136.0" y2="204.7" stroke="#e9485b" stroke-width="1.2"/>
<rect x="614.0" y="146.9" width="7" height="55.0" fill="#e9485b"/>
<line x1="626.5" x2="626.5" y1="108.9" y2="158.8" stroke="#52b885" stroke-width="1.2"/>
<rect x="623.0" y="149.2" width="7" height="7.5" fill="#52b885"/>
<line x1="635.5" x2="635.5" y1="88.6" y2="160.7" stroke="#e9485b" stroke-width="1.2"/>
<rect x="632.0" y="118.9" width="7" height="37.8" fill="#e9485b"/>
<line x1="644.5" x2="644.5" y1="107.2" y2="124.7" stroke="#52b885" stroke-width="1.2"/>
<rect x="641.0" y="119.4" width="7" height="1.2" fill="#52b885"/>
<polyline points="95.5,256.0 104.5,290.6 113.5,330.7 122.5,319.4 131.5,279.9 140.5,249.0 149.5,206.0 158.5,227.7 167.5,162.0 176.5,159.5 185.5,156.9 194.5,173.8 203.5,201.7 212.5,277.8 221.5,227.0 230.5,221.3 239.5,153.0 248.5,166.4 257.5,207.8 266.5,247.7 275.5,230.0 284.5,281.9 293.5,258.0 302.5,234.9 311.5,197.1 320.5,134.2 329.5,148.7 338.5,182.8 347.5,238.8 356.5,253.7 365.5,352.7 374.5,362.7 383.5,300.0 392.5,310.1 401.5,302.0 410.5,263.2 419.5,235.9 428.5,240.8 437.5,249.5 446.5,228.0 455.5,208.0 464.5,274.5 473.5,257.2 482.5,277.5 491.5,325.7 500.5,351.7 509.5,369.6 518.5,276.0 527.5,288.4 536.5,274.9 545.5,258.2 554.5,224.2 563.5,218.1 572.5,197.9 581.5,239.5 590.5,210.1 599.5,242.4 608.5,195.1 617.5,146.9 626.5,156.7 635.5,118.9 644.5,120.4" fill="none" stroke="#ff8a1c" stroke-width="1.0" stroke-linejoin="round" shape-rendering="crispEdges"/>
<polyline points="95.5,266.0 104.5,271.0 113.5,281.6 122.5,289.0 131.5,288.0 140.5,280.5 149.5,264.5 158.5,254.5 167.5,239.7 176.5,222.4 185.5,208.5 194.5,202.1 203.5,202.1 212.5,217.1 221.5,218.6 230.5,219.6 239.5,206.0 248.5,198.8 257.5,199.9 266.5,208.4 275.5,213.7 284.5,225.0 293.5,232.4 302.5,233.2 311.5,225.0 320.5,206.3 329.5,195.6 338.5,192.4 347.5,202.0 356.5,212.7 365.5,239.2 374.5,260.5 383.5,272.8 392.5,278.6 401.5,283.2 410.5,276.4 419.5,269.4 428.5,264.7 437.5,261.5 446.5,256.1 455.5,245.5 464.5,251.4 473.5,252.9 482.5,257.2 491.5,270.0 500.5,289.2 509.5,303.1 518.5,297.7 527.5,295.6 536.5,291.3 545.5,283.8 554.5,272.7 563.5,260.5 572.5,248.5 581.5,246.0 590.5,239.5 599.5,239.9 608.5,230.3 617.5,212.1 626.5,199.3 635.5,185.5 644.5,173.7" fill="none" stroke="#2f8cff" stroke-width="1.0" stroke-linejoin="round" shape-rendering="crispEdges"/>
<polyline points="95.5,353.5 104.5,350.5 113.5,349.2 122.5,348.4 131.5,346.0 140.5,342.0 149.5,336.4 158.5,331.7 167.5,324.9 176.5,317.9 185.5,311.5 194.5,306.8 203.5,303.1 212.5,302.0 221.5,299.3 230.5,296.5 239.5,289.7 248.5,284.5 257.5,282.3 266.5,281.2 275.5,279.7 284.5,278.7 293.5,277.6 302.5,275.5 311.5,272.3 320.5,267.4 329.5,262.7 338.5,260.1 347.5,259.0 356.5,259.5 365.5,262.7 374.5,265.9 383.5,267.4 392.5,269.4 401.5,270.6 410.5,270.0 419.5,269.4 428.5,267.2 437.5,266.4 446.5,264.7 455.5,263.2 464.5,263.6 473.5,263.6 482.5,264.7 491.5,267.2 500.5,270.0 509.5,272.8 518.5,273.2 527.5,274.3 536.5,274.3 545.5,273.5 554.5,270.5 563.5,268.5 572.5,266.4 581.5,264.9 590.5,263.4 599.5,262.3 608.5,260.1 617.5,255.4 626.5,251.0 635.5,246.3 644.5,241.6" fill="none" stroke="#35c98a" stroke-width="1.0" stroke-linejoin="round" shape-rendering="crispEdges"/>
<polyline points="95.5,345.4 122.5,345.0 131.5,344.5 140.5,342.4 158.5,339.2 176.5,336.4 194.5,333.2 212.5,331.1 230.5,328.5 239.5,327.0 257.5,325.6 284.5,322.4 311.5,319.2 329.5,316.4 347.5,313.9 365.5,313.4 392.5,314.0 410.5,313.7 437.5,311.0 464.5,309.0 491.5,308.4 518.5,308.8 545.5,308.0 554.5,307.6 581.5,305.0 608.5,301.2 626.5,298.0 644.5,295.2" fill="none" stroke="#ee7fe6" stroke-width="1.1" stroke-linejoin="round" shape-rendering="crispEdges"/>
<line x1="527.4" y1="260.4" x2="664.4" y2="46.6" stroke="#2a0c0c" stroke-width="2.3"/>
<line x1="519.2" y1="375.2" x2="679.6" y2="132.4" stroke="#2a0c0c" stroke-width="2.3"/>
<path d="M119.0 430.3H126.0M122.5 427.3V431.3" stroke="#000" stroke-width="1.4" fill="none"/>
<path d="M326.0 102.8H333.0M329.5 99.8V103.8" stroke="#000" stroke-width="1.4" fill="none"/>
<path d="M506.0 375.9H513.0M509.5 372.9V376.9" stroke="#000" stroke-width="1.4" fill="none"/>
<path d="M632.0 88.8H639.0M635.5 85.8V89.8" stroke="#000" stroke-width="1.4" fill="none"/>
<polyline points="95.5,526.8 104.5,546.5 113.5,566.0 122.5,560.7 131.5,539.9 140.5,524.7 149.5,504.7 158.5,518.0 167.5,488.7 176.5,487.3 185.5,486.5 194.5,498.0 203.5,519.3 212.5,566.5 221.5,538.8 230.5,533.5 239.5,501.5 248.5,510.5 257.5,535.3 266.5,559.3 275.5,549.5 284.5,578.0 293.5,563.3 302.5,549.2 311.5,528.1 320.5,497.2 329.5,507.3 338.5,530.8 347.5,561.5 356.5,571.3 365.5,616.7 374.5,620.7 383.5,582.5 392.5,586.5 401.5,582.0 410.5,560.7 419.5,542.0 428.5,545.2 437.5,551.3 446.5,538.0 455.5,524.7 464.5,569.2 473.5,557.5 482.5,569.2 491.5,597.5 500.5,611.3 509.5,620.7 518.5,555.9 527.5,563.3 536.5,552.7 545.5,542.5 554.5,522.0 563.5,519.3 572.5,507.3 581.5,539.3 590.5,520.1 599.5,544.7 608.5,515.3 617.5,489.2 626.5,498.0 635.5,479.3 644.5,480.1" fill="none" stroke="#2aa8df" stroke-width="1.0" stroke-linejoin="round" shape-rendering="crispEdges"/>
<text x="87" y="51.199999999999996" font-size="12.3" fill="#3a3f47" text-anchor="end" font-weight="normal" font-family='"Liberation Sans","Noto Sans CJK SC",sans-serif' >0.6667</text>
<text x="682.5" y="51.199999999999996" font-size="12.3" fill="#3a3f47" text-anchor="start" font-weight="normal" font-family='"Liberation Sans","Noto Sans CJK SC",sans-serif' >0.6667</text>
<text x="87" y="109.0" font-size="12.3" fill="#3a3f47" text-anchor="end" font-weight="normal" font-family='"Liberation Sans","Noto Sans CJK SC",sans-serif' >0.6622</text>
<text x="682.5" y="109.0" font-size="12.3" fill="#3a3f47" text-anchor="start" font-weight="normal" font-family='"Liberation Sans","Noto Sans CJK SC",sans-serif' >0.6622</text>
<text x="87" y="166.70000000000002" font-size="12.3" fill="#3a3f47" text-anchor="end" font-weight="normal" font-family='"Liberation Sans","Noto Sans CJK SC",sans-serif' >0.6577</text>
<text x="682.5" y="166.70000000000002" font-size="12.3" fill="#3a3f47" text-anchor="start" font-weight="normal" font-family='"Liberation Sans","Noto Sans CJK SC",sans-serif' >0.6577</text>
<text x="87" y="225.0" font-size="12.3" fill="#3a3f47" text-anchor="end" font-weight="normal" font-family='"Liberation Sans","Noto Sans CJK SC",sans-serif' >0.6531</text>
<text x="682.5" y="225.0" font-size="12.3" fill="#3a3f47" text-anchor="start" font-weight="normal" font-family='"Liberation Sans","Noto Sans CJK SC",sans-serif' >0.6531</text>
<text x="87" y="284.2" font-size="12.3" fill="#3a3f47" text-anchor="end" font-weight="normal" font-family='"Liberation Sans","Noto Sans CJK SC",sans-serif' >0.6486</text>
<text x="682.5" y="284.2" font-size="12.3" fill="#3a3f47" text-anchor="start" font-weight="normal" font-family='"Liberation Sans","Noto Sans CJK SC",sans-serif' >0.6486</text>
<text x="87" y="342.9" font-size="12.3" fill="#3a3f47" text-anchor="end" font-weight="normal" font-family='"Liberation Sans","Noto Sans CJK SC",sans-serif' >0.6441</text>
<text x="682.5" y="342.9" font-size="12.3" fill="#3a3f47" text-anchor="start" font-weight="normal" font-family='"Liberation Sans","Noto Sans CJK SC",sans-serif' >0.6441</text>
<text x="87" y="401.4" font-size="12.3" fill="#3a3f47" text-anchor="end" font-weight="normal" font-family='"Liberation Sans","Noto Sans CJK SC",sans-serif' >0.6396</text>
<text x="682.5" y="401.4" font-size="12.3" fill="#3a3f47" text-anchor="start" font-weight="normal" font-family='"Liberation Sans","Noto Sans CJK SC",sans-serif' >0.6396</text>
<text x="87" y="482.4" font-size="12.2" fill="#3a3f47" text-anchor="end" font-weight="normal" font-family='"Liberation Sans","Noto Sans CJK SC",sans-serif' >63.4368</text>
<text x="682.5" y="482.4" font-size="12.2" fill="#3a3f47" text-anchor="start" font-weight="normal" font-family='"Liberation Sans","Noto Sans CJK SC",sans-serif' >63.4368</text>
<text x="87" y="506.0" font-size="12.2" fill="#3a3f47" text-anchor="end" font-weight="normal" font-family='"Liberation Sans","Noto Sans CJK SC",sans-serif' >59.1408</text>
<text x="682.5" y="506.0" font-size="12.2" fill="#3a3f47" text-anchor="start" font-weight="normal" font-family='"Liberation Sans","Noto Sans CJK SC",sans-serif' >59.1408</text>
<text x="87" y="529.8" font-size="12.2" fill="#3a3f47" text-anchor="end" font-weight="normal" font-family='"Liberation Sans","Noto Sans CJK SC",sans-serif' >54.8447</text>
<text x="682.5" y="529.8" font-size="12.2" fill="#3a3f47" text-anchor="start" font-weight="normal" font-family='"Liberation Sans","Noto Sans CJK SC",sans-serif' >54.8447</text>
<text x="87" y="553.6" font-size="12.2" fill="#3a3f47" text-anchor="end" font-weight="normal" font-family='"Liberation Sans","Noto Sans CJK SC",sans-serif' >50.5487</text>
<text x="682.5" y="553.6" font-size="12.2" fill="#3a3f47" text-anchor="start" font-weight="normal" font-family='"Liberation Sans","Noto Sans CJK SC",sans-serif' >50.5487</text>
<text x="87" y="577.4" font-size="12.2" fill="#3a3f47" text-anchor="end" font-weight="normal" font-family='"Liberation Sans","Noto Sans CJK SC",sans-serif' >46.2526</text>
<text x="682.5" y="577.4" font-size="12.2" fill="#3a3f47" text-anchor="start" font-weight="normal" font-family='"Liberation Sans","Noto Sans CJK SC",sans-serif' >46.2526</text>
<text x="87" y="601.4" font-size="12.2" fill="#3a3f47" text-anchor="end" font-weight="normal" font-family='"Liberation Sans","Noto Sans CJK SC",sans-serif' >41.9566</text>
<text x="682.5" y="601.4" font-size="12.2" fill="#3a3f47" text-anchor="start" font-weight="normal" font-family='"Liberation Sans","Noto Sans CJK SC",sans-serif' >41.9566</text>
<text x="334.5" y="100.2" font-size="12" fill="#e8546a" text-anchor="start" font-weight="bold" font-family='"Liberation Sans","Noto Sans CJK SC",sans-serif' >0.6624</text>
<text x="127.5" y="441.8" font-size="12" fill="#5cb88a" text-anchor="start" font-weight="bold" font-family='"Liberation Sans","Noto Sans CJK SC",sans-serif' >0.6372</text>
<text x="514.5" y="387.0" font-size="12" fill="#5cb88a" text-anchor="start" font-weight="bold" font-family='"Liberation Sans","Noto Sans CJK SC",sans-serif' >0.6414</text>
<text x="640.5" y="84.8" font-size="12" fill="#e8546a" text-anchor="start" font-weight="bold" font-family='"Liberation Sans","Noto Sans CJK SC",sans-serif' >0.6635</text>
<text x="641.3" y="99.4" font-size="12.4" fill="#0a0af5" text-anchor="start" font-weight="normal" font-family='"Liberation Sans","Noto Sans CJK SC",sans-serif' stroke="#0a0af5" stroke-width="0.25">0.6624</text>
<rect x="679.6" y="120.8" width="67.3" height="16.1" fill="#fff" stroke="#ff8a1c" stroke-width="1"/>
<text x="682.6" y="133.0" font-size="12.1" fill="#ff8a1c" text-anchor="start" font-weight="normal" font-family='"Liberation Sans","Noto Sans CJK SC",sans-serif' >0.6611</text>
<path d="M738.800 115.500l4.400-4 4.400 4zM738.800 120.400l4.400-4.300 4.400 4.300z" fill="#ff8a1c"/>
<text x="178.3" y="633.8" font-size="12.3" fill="#222" text-anchor="start" font-weight="bold" font-family='"Liberation Sans","Noto Sans CJK SC",sans-serif' >2025/07</text>
<text x="385" y="633.8" font-size="12.3" fill="#222" text-anchor="start" font-weight="bold" font-family='"Liberation Sans","Noto Sans CJK SC",sans-serif' >2025/08</text>
<text x="574.3" y="633.8" font-size="12.3" fill="#222" text-anchor="start" font-weight="bold" font-family='"Liberation Sans","Noto Sans CJK SC",sans-serif' >2025/09</text>
</svg>
<div class="lg" style="left:92px;top:30px;font-size:12px;color:#111;font-weight:500;font-family:'Liberation Sans','Noto Sans CJK SC',sans-serif">澳元美元<span style="color:#ff7a0c;margin-left:0px;text-spacing-trim:space-all;font-weight:400">【日线】</span></div>
<svg style="position:absolute;left:188.300px;top:33px" width="9.200" height="9.200" viewBox="0 0 10 10"><circle cx="5" cy="5" r="4.200" fill="none" stroke="#ff7a0c" stroke-width="0.900"/><path d="M1 5h8M5 1v8" stroke="#ff7a0c" stroke-width="0.900"/></svg>
<svg style="position:absolute;left:205px;top:27px" width="13" height="13" viewBox="0 0 13 13"><rect x="0.750" y="0.750" width="11.500" height="11.500" fill="#fff" stroke="#1b2ea8" stroke-width="1.500"/><path d="M1.500 7.500 4 4l2.500 3L9 3.500l2.500 2.500" stroke="#e02020" stroke-width="1.200" fill="none"/><path d="M1.500 10 4.500 7l2.500 2.500 4.500-2" stroke="#2060e0" stroke-width="1.100" fill="none"/></svg>
<div class="lg" style="left:220.500px;top:29px;color:#111;font-size:12.050px">EXPMA(9,50,1,1,200)</div>
<div class="lg" style="left:342.500px;top:29px;font-size:12.400px;color:#3a93fb">MA1:0.6571</div>
<div class="lg" style="left:418.500px;top:29px;font-size:12.400px;color:#45c983">MA2:0.6517</div>
<div class="lg" style="left:494.500px;top:29px;font-size:12.400px;color:#3cb2ee">MA3:0.6</div>
<svg style="position:absolute;left:616px;top:27px" width="14" height="14" viewBox="0 0 14 14"><rect x="0.500" y="0.500" width="13" height="13" fill="#fff" stroke="#1a7fd4" stroke-width="1"/><path d="M7 2.500v2.200M7 9.300v2.200M2.500 7h2.200M9.300 7h2.200" stroke="#1a7fd4" stroke-width="1.800"/><rect x="6.100" y="6.100" width="1.800" height="1.800" fill="#1a7fd4"/></svg><svg style="position:absolute;left:632px;top:27px" width="14" height="14" viewBox="0 0 14 14"><rect x="0.500" y="0.500" width="13" height="13" fill="#fff" stroke="#1a7fd4" stroke-width="1"/><path d="M3.500 2v9.500H12M7 3v5" stroke="#1a7fd4" stroke-width="1.100" fill="none"/><path d="M2 4l1.500-2 1.500 2zM10.500 10l2 1.500-2 1.500zM11 3v5L7.800 5.500zM2 9.500l1.500 1.800 1.500-1.800z" fill="#1a7fd4"/></svg><svg style="position:absolute;left:648px;top:27px" width="14" height="14" viewBox="0 0 14 14"><rect x="0.500" y="0.500" width="13" height="13" fill="#1a7fd4" stroke="#1a7fd4" stroke-width="1"/><path d="M3.500 2v9.500H12" stroke="#fff" stroke-width="1.100" fill="none"/><path d="M2 4l1.500-2 1.500 2zM10.500 10l2 1.500-2 1.500zM6 2.800v6l5.500-3z" fill="#fff"/></svg><svg style="position:absolute;left:664px;top:27px" width="14" height="14" viewBox="0 0 14 14"><rect x="0.500" y="0.500" width="13" height="13" fill="#fff" stroke="#1a7fd4" stroke-width="1"/><path d="M3 2.500h3.500v9H3z" stroke="#1a7fd4" stroke-width="1.200" fill="none"/><path d="M5 7h4" stroke="#1a7fd4" stroke-width="1.800"/><path d="M8.500 4l3.500 3-3.500 3z" fill="#1a7fd4"/></svg>
<svg style="position:absolute;left:21px;top:455.800px" width="16" height="16" viewBox="0 0 16 16"><g stroke="#ff1a1a" stroke-width="1.100"><path d="M8 1v1.800M8 13.200V15M1 8h1.800M13.200 8H15M3 3l1.300 1.300M11.700 11.700 13 13M13 3l-1.300 1.300M4.300 11.700 3 13"/></g><circle cx="8" cy="8" r="3.600" fill="#fff" stroke="#111" stroke-width="1"/><circle cx="8" cy="8" r="1.900" fill="#ff1a1a"/></svg>
<div class="lg" style="left:92.500px;top:459.500px;color:#111;font-size:12px">RSI(14,14,14)</div>
<div class="lg" style="left:171px;top:459.500px;color:#3a93fb">RSI1:63.2348</div>
<div class="lg" style="left:253px;top:459.500px;color:#45c983">RSI2:63.2348</div>
<div class="lg" style="left:334.500px;top:459.500px;color:#3cb2ee">RSI3:63.2348</div>
<div id="wm">FX678</div>
<div id="rx">日线 ▲</div>
<div id="tabs"></div>
<div class="tab on" style="left:20px;width:40px"><span class="zh">指标</span></div>
<div class="tab " style="left:60px;width:39px"><span class="zh">模板</span></div>
<div class="tab vip" style="left:99px;width:59px"><span class="mo">VIP</span><span class="zh">指标</span></div>
<div class="tab " style="left:158px;width:47px"><span class="mo">EXPMA</span></div>
<div class="tab " style="left:205px;width:27px"><span class="mo">MA</span></div>
<div class="tab " style="left:232px;width:40px"><span class="mo">MACD</span></div>
<div class="tab " style="left:272px;width:28px"><span class="mo">PP</span></div>
<div class="tab " style="left:300px;width:100px"><span class="mo">ICHIMOKU CLOUD</span></div>
<div class="tab " style="left:400px;width:33px"><span class="mo">CCI</span></div>
<div class="tab " style="left:433px;width:34px"><span class="mo">KDJ</span></div>
<div class="tab on rsi" style="left:467px;width:34px"><span class="mo">RSI</span></div>
<div class="tab " style="left:501px;width:40px"><span class="mo">BOLL</span></div>
<div class="tab nob" style="left:541px;width:29px"><span class="mo" style="margin-left:3px">&gt;&gt;</span></div>
<div class="tab " style="left:570px;width:39px"><span class="zh">设置</span></div>
</body></html>
